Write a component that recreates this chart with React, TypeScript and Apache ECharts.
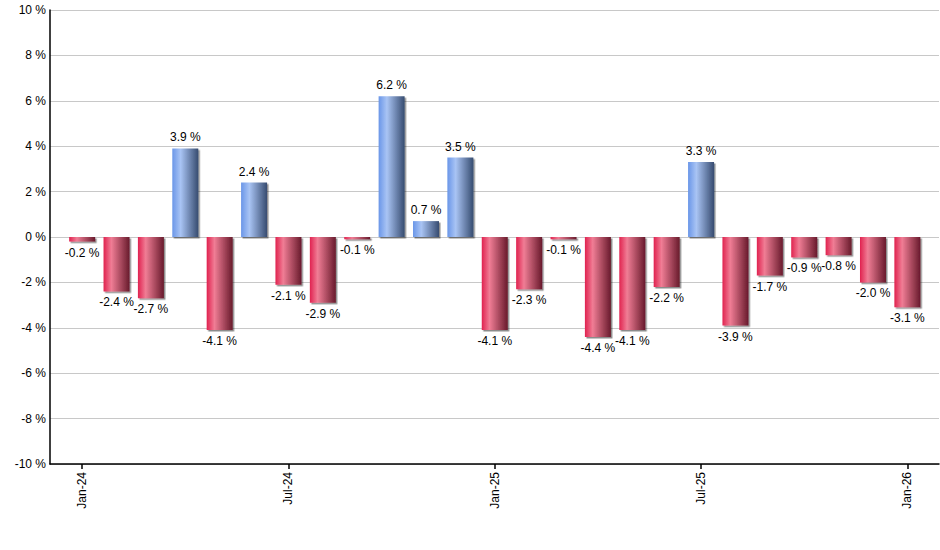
import React, { useEffect, useRef } from "react";
import * as echarts from "echarts";

const months = [
  "Jan-24", "Feb-24", "Mar-24", "Apr-24", "May-24", "Jun-24", "Jul-24", "Aug-24", "Sep-24", "Oct-24", "Nov-24", "Dec-24",
  "Jan-25", "Feb-25", "Mar-25", "Apr-25", "May-25", "Jun-25", "Jul-25", "Aug-25", "Sep-25", "Oct-25", "Nov-25", "Dec-25",
  "Jan-26",
];
const values = [
  -0.2, -2.4, -2.7, 3.9, -4.1, 2.4, -2.1, -2.9, -0.1, 6.2, 0.7, 3.5,
  -4.1, -2.3, -0.1, -4.4, -4.1, -2.2, 3.3, -3.9, -1.7, -0.9, -0.8, -2.0,
  -3.1,
];
const labelIndices = [0, 6, 12, 18, 24];
const yTicks = { min: -10, max: 10, interval: 2 };

const FONT = "'Liberation Sans', Arial, sans-serif";

const blueGrad = new echarts.graphic.LinearGradient(0, 0, 1, 0, [
  { offset: 0, color: "#6a96e8" },
  { offset: 0.32, color: "#a9c4f4" },
  { offset: 1, color: "#374c70" },
]);
const redGrad = new echarts.graphic.LinearGradient(0, 0, 1, 0, [
  { offset: 0, color: "#e0224f" },
  { offset: 0.3, color: "#f07d95" },
  { offset: 1, color: "#681a2c" },
]);

export default function App() {
  const ref = useRef<HTMLDivElement>(null);
  useEffect(() => {
    if (!ref.current) return;
    const chart = echarts.init(ref.current, null, { renderer: "svg" });
    const data = values.map((v, i) => ({
      value: [i, v],
      itemStyle: { color: v >= 0 ? blueGrad : redGrad },
      label: { position: v >= 0 ? "top" : "bottom" },
    }));
    chart.setOption({
      animation: false,
      backgroundColor: "#ffffff",
      textStyle: { fontFamily: FONT },
      grid: { left: 50, right: 1, top: 10, bottom: 86, containLabel: false },
      xAxis: {
        type: "value",
        min: -0.935,
        max: 24.92,
        splitLine: { show: false },
        axisLine: { onZero: false, lineStyle: { color: "#000", width: 1.5 } },
        axisTick: {
          show: true,
          customValues: labelIndices,
          length: 5,
          lineStyle: { color: "#000", width: 1.5 },
        },
        axisLabel: {
          customValues: labelIndices,
          rotate: 90,
          margin: 8,
          color: "#000",
          fontSize: 12,
          fontFamily: FONT,
          formatter: (v: number) => months[Math.round(v)] ?? "",
        },
      },
      yAxis: {
        type: "value",
        min: yTicks.min,
        max: yTicks.max,
        interval: yTicks.interval,
        axisLine: { show: true, onZero: false, lineStyle: { color: "#000", width: 1.5 } },
        axisTick: { show: false },
        splitLine: { lineStyle: { color: "#c8c8c8", width: 1 } },
        axisLabel: {
          color: "#000",
          fontSize: 12,
          fontFamily: FONT,
          margin: 4,
          formatter: (v: number) => `${v} %`,
        },
      },
      series: [
        {
          type: "bar",
          barWidth: 26,
          data,
          itemStyle: {
            shadowColor: "rgba(0,0,0,0.45)",
            shadowOffsetX: 1.5,
            shadowOffsetY: 1.5,
            shadowBlur: 1,
          },
          label: {
            show: true,
            distance: 5,
            color: "#000",
            fontSize: 12,
            fontFamily: FONT,
            formatter: (p: any) => `${p.value[1].toFixed(1)} %`,
          },
        },
      ],
    });
    return () => chart.dispose();
  }, []);
  return (
    <div
      ref={ref}
      style={{ position: "fixed", left: 0, top: 0, width: 940, height: 550 }}
    />
  );
}
